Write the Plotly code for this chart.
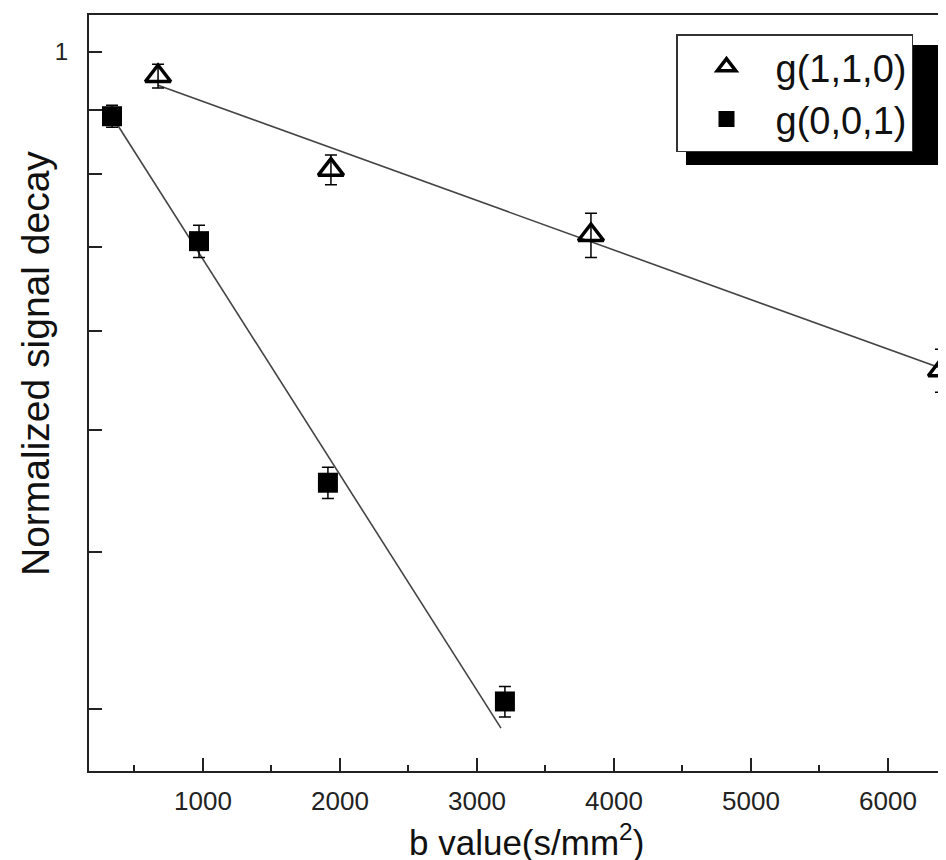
import plotly.graph_objects as go

# ---- data ----
b_110 = [672, 1934, 3832, 6387]
s_110 = [0.957, 0.806, 0.715, 0.558]
e_110 = [0.021, 0.022, 0.029, 0.022]

b_001 = [336, 971, 1912, 3204]
s_001 = [0.889, 0.707, 0.454, 0.304]
e_001 = [0.018, 0.021, 0.013, 0.0085]

fit_b_110 = [672, 6387]
fit_s_110 = [0.941, 0.560]
fit_b_001 = [336, 3175]
fit_s_001 = [0.889, 0.2895]

x_ticks = [1000, 2000, 3000, 4000, 5000, 6000]
y_label_ticks = [1]
y_other_ticks = [0.3, 0.4, 0.5, 0.6, 0.7, 0.8, 0.9]

W, H = 946, 860
L, R, T, B = 81, 0, 7, 97
pw, ph = W - L - R, H - T - B

def px(x):
    return (x - L) / pw

def py(y):
    return (H - B - y) / ph

fig = go.Figure()

fig.add_trace(go.Scatter(x=fit_b_110, y=fit_s_110, mode="lines",
                         line=dict(color="#444444", width=1.6),
                         showlegend=False, hoverinfo="skip"))
fig.add_trace(go.Scatter(x=fit_b_001, y=fit_s_001, mode="lines",
                         line=dict(color="#444444", width=1.6),
                         showlegend=False, hoverinfo="skip"))

fig.add_trace(go.Scatter(
    x=b_110, y=s_110, mode="markers", name="g(1,1,0)",
    marker=dict(symbol="triangle-up-open", size=22, color="black",
                line=dict(width=3.5, color="black")),
    error_y=dict(type="data", array=e_110, color="black", thickness=1.5, width=6),
))
fig.add_trace(go.Scatter(
    x=b_001, y=s_001, mode="markers", name="g(0,0,1)",
    marker=dict(symbol="square", size=20, color="black"),
    error_y=dict(type="data", array=e_001, color="black", thickness=1.5, width=6),
))

# legend shadow
fig.add_shape(type="rect", xref="paper", yref="paper",
              x0=px(678), x1=px(960), y0=py(157), y1=py(37),
              fillcolor="black", line=dict(width=0), layer="above")

fig.add_annotation(text="Normalized signal decay", textangle=-90,
                   xref="paper", yref="paper", x=px(27), y=py(356),
                   xanchor="center", yanchor="middle", showarrow=False,
                   font=dict(family="Liberation Sans, Arial", size=39, color="#111111"))

fig.add_annotation(text="b value(s/mm<sup>2</sup>)",
                   xref="paper", yref="paper", x=px(518), y=py(832),
                   xanchor="center", yanchor="middle", showarrow=False,
                   font=dict(family="Liberation Sans, Arial", size=35, color="#111111"))

fig.update_layout(
    width=W, height=H,
    margin=dict(l=L, r=R, t=T, b=B, pad=0),
    plot_bgcolor="white", paper_bgcolor="white",
    showlegend=True,
    legend=dict(x=px(668), y=py(26), xanchor="left", yanchor="top",
                bgcolor="white", bordercolor="#333333", borderwidth=1.5,
                font=dict(family="Liberation Sans, Arial", size=38, color="#111111"),
                itemwidth=88, tracegroupgap=0,
                entrywidth=255, entrywidthmode="pixels"),
    xaxis=dict(range=[168, 6482], showline=True, linecolor="#222222", linewidth=2,
               mirror=True, showgrid=False, zeroline=False,
               tickvals=x_ticks, ticks="inside", ticklen=13, tickwidth=1.5,
               tickcolor="#222222",
               minor=dict(dtick=500, tick0=0, ticks="inside", ticklen=6,
                          tickwidth=1.5, tickcolor="#222222", showgrid=False),
               tickfont=dict(family="Liberation Sans, Arial", size=26, color="#222222"),
               ticklabelstandoff=6),
    yaxis=dict(type="log", range=[-0.5725, 0.0295], showline=True,
               linecolor="#222222", linewidth=2, showgrid=False, zeroline=False,
               tickvals=y_label_ticks, ticktext=["1"], ticks="inside", ticklen=13,
               tickwidth=1.5, tickcolor="#222222",
               minor=dict(tickmode="array", tickvals=y_other_ticks, ticks="inside",
                          ticklen=13, tickwidth=1.5, tickcolor="#222222",
                          showgrid=False),
               tickfont=dict(family="Liberation Sans, Arial", size=24, color="#222222"),
               ticklabelstandoff=14),
)

fig.write_html("out.html")
